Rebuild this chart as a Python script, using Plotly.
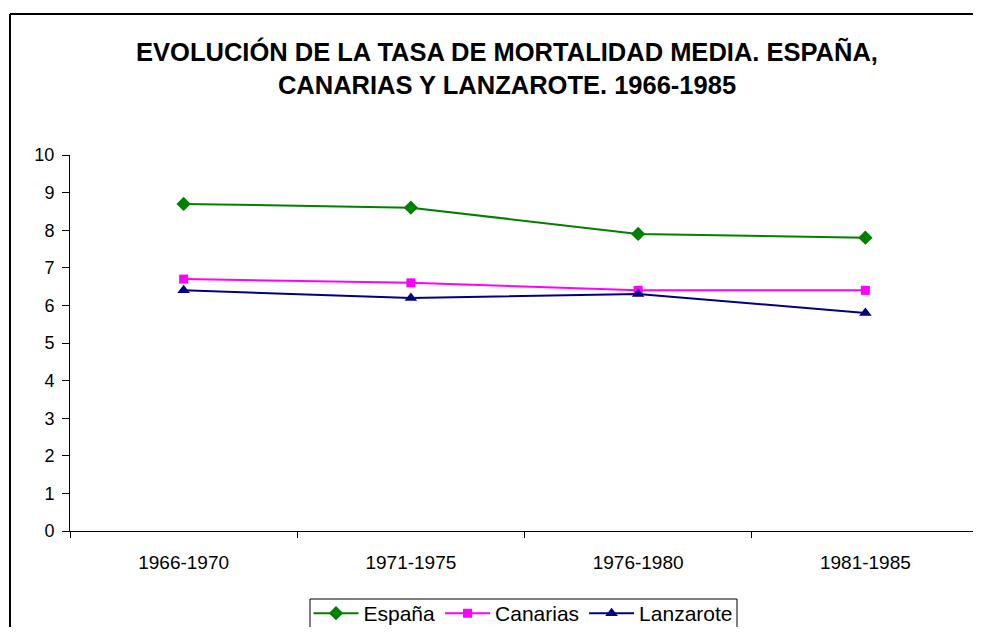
import plotly.graph_objects as go

categories = ["1966-1970", "1971-1975", "1976-1980", "1981-1985"]
espana = [8.7, 8.6, 7.9, 7.8]
canarias = [6.7, 6.6, 6.4, 6.4]
lanzarote = [6.4, 6.2, 6.3, 5.8]
y_ticks = list(range(0, 11))

# page has an 8px body margin; figure coordinates = page coordinates - 8
OFF = 8
W, H = 981 - OFF, 635 - 2 * OFF
L, T = 70 - OFF, 155 - OFF
R = W - (979 - OFF)
B = H - (531 - OFF)
pw, ph = W - L - R, H - T - B

def px2x(px):
    return (px - OFF - L) / pw

def py2y(py):
    return (H - B - (py - OFF)) / ph

fig = go.Figure()
fig.add_trace(go.Scatter(x=categories, y=espana, name="España", mode="lines+markers",
                         line=dict(color="#008000", width=2),
                         marker=dict(symbol="diamond", size=11, color="#008000")))
fig.add_trace(go.Scatter(x=categories, y=canarias, name="Canarias", mode="lines+markers",
                         line=dict(color="#FF00FF", width=2),
                         marker=dict(symbol="square", size=9, color="#FF00FF")))
fig.add_trace(go.Scatter(x=categories, y=lanzarote, name="Lanzarote", mode="lines+markers",
                         line=dict(color="#000080", width=2),
                         marker=dict(symbol="triangle-up", size=11, color="#000080")))

frame = dict(color="black", width=2)
fig.update_layout(
    width=W, height=H,
    margin=dict(l=L, r=R, t=T, b=B, pad=0, autoexpand=False),
    paper_bgcolor="white", plot_bgcolor="white",
    font=dict(family="Liberation Sans, Arial", size=19, color="black"),
    title=dict(text="<b>EVOLUCIÓN DE LA TASA DE MORTALIDAD MEDIA. ESPAÑA,<br>CANARIAS Y LANZAROTE. 1966-1985</b>",
               x=px2x(507), xref="paper", xanchor="center",
               y=1 - (61 - OFF) / H, yref="container", yanchor="middle",
               font=dict(family="Liberation Sans, Arial", size=25.5, color="black")),
    showlegend=True,
    legend=dict(orientation="h", x=px2x(523), xanchor="center", y=py2y(593), yanchor="top",
                borderwidth=0, bgcolor="rgba(0,0,0,0)",
                font=dict(size=21), tracegroupgap=0, itemwidth=45),
    xaxis=dict(type="category", range=[-0.5, 3.5], showline=True, linecolor="black", linewidth=1,
               ticks="outside", ticklen=6, tickcolor="black", tickson="boundaries",
               tickfont=dict(size=19), ticklabelstandoff=14,
               showgrid=False, zeroline=False, fixedrange=True),
    yaxis=dict(range=[0, 10], tickvals=y_ticks, showline=True, linecolor="black", linewidth=1,
               ticks="outside", ticklen=7, tickcolor="black", showgrid=False, zeroline=False,
               tickfont=dict(size=18), ticklabelstandoff=4, fixedrange=True),
    shapes=[
        # outer chart frame (top and left edges are visible in the reference)
        dict(type="line", xref="paper", yref="paper",
             x0=px2x(10), x1=px2x(1010), y0=py2y(14), y1=py2y(14), line=frame),
        dict(type="line", xref="paper", yref="paper",
             x0=px2x(10), x1=px2x(10), y0=py2y(14), y1=py2y(700), line=frame),
        # legend box
        dict(type="rect", xref="paper", yref="paper",
             x0=px2x(310), x1=px2x(737), y0=py2y(700), y1=py2y(599),
             line=dict(color="black", width=1), fillcolor="white", layer="below"),
    ],
)

fig.write_html("out.html")
